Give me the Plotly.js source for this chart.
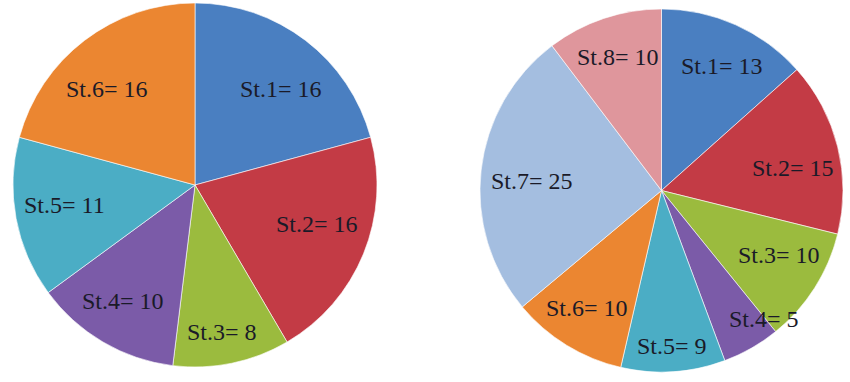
<!DOCTYPE html>
<html>
<head>
<meta charset="utf-8">
<script src="https://cdn.plot.ly/plotly-3.0.1.min.js"></script>
<style>html,body{margin:0;padding:0;background:#fff;}#chart{width:850px;height:382px;}</style>
</head>
<body>
<div id="chart"></div>
<script>
const leftLabels = ["St.1", "St.2", "St.3", "St.4", "St.5", "St.6"];
const leftValues = [16, 16, 8, 10, 11, 16];
const leftColors = ["#4A7FC1", "#C33B45", "#9BBB3E", "#7B5BA8", "#4BADC5", "#EB8631"];

const rightLabels = ["St.1", "St.2", "St.3", "St.4", "St.5", "St.6", "St.7", "St.8"];
const rightValues = [13, 15, 10, 5, 9, 10, 25, 10];
const rightColors = ["#4A7FC1", "#C33B45", "#9BBB3E", "#7B5BA8", "#4BADC5", "#EB8631", "#A4BEE0", "#DF969C"];

const W = 850, H = 382;
const FONT = { family: "Liberation Serif, Times New Roman, serif", size: 24, color: "#1a1a28" };

// label placement tuning (layout only): radius fraction and angle offset (deg)
const leftLabelPos = { r: [0.707, 0.702, 0.821, 0.75, 0.723, 0.717], off: [4.3, -4.4, 1.3, 1.4, 1.8, -5.2] };
const rightLabelPos = { r: [0.762, 0.735, 0.738, 0.906, 0.859, 0.766, 0.715, 0.775], off: [1.7, 4.2, -3.7, -8.9, -0.2, 0.9, -2.3, 0.4] };

function pie(labels, values, colors, domain) {
  return {
    type: "pie",
    labels: labels,
    values: values,
    textinfo: "none",
    hoverinfo: "none",
    sort: false,
    direction: "clockwise",
    rotation: 0,
    marker: { colors: colors, line: { color: "rgba(255,255,255,0.6)", width: 1 } },
    domain: domain,
    showlegend: false
  };
}

function labelAnnotations(labels, values, domain, pos) {
  const total = values.reduce((a, b) => a + b, 0);
  const x0 = domain.x[0] * W, x1 = domain.x[1] * W;
  const y0 = (1 - domain.y[1]) * H, y1 = (1 - domain.y[0]) * H;
  const cx = (x0 + x1) / 2, cy = (y0 + y1) / 2;
  const R = Math.min(x1 - x0, y1 - y0) / 2;
  let cum = 0;
  return labels.map((lab, i) => {
    const mid = (cum + values[i] / 2) / total * 360 + pos.off[i];
    cum += values[i];
    const a = mid * Math.PI / 180;
    const px = cx + Math.sin(a) * R * pos.r[i];
    const py = cy - Math.cos(a) * R * pos.r[i];
    return {
      xref: "paper", yref: "paper",
      x: px / W, y: 1 - py / H,
      xanchor: "center", yanchor: "middle",
      showarrow: false,
      text: lab + "= " + values[i],
      font: FONT
    };
  });
}

const leftDomain = { x: [12 / W, 378 / W], y: [15 / H, 379 / H] };
const rightDomain = { x: [480 / W, 843 / W], y: [10 / H, 373 / H] };

const data = [
  pie(leftLabels, leftValues, leftColors, leftDomain),
  pie(rightLabels, rightValues, rightColors, rightDomain)
];

const layout = {
  width: W,
  height: H,
  margin: { l: 0, r: 0, t: 0, b: 0 },
  paper_bgcolor: "#ffffff",
  showlegend: false,
  annotations: labelAnnotations(leftLabels, leftValues, leftDomain, leftLabelPos)
    .concat(labelAnnotations(rightLabels, rightValues, rightDomain, rightLabelPos))
};

Plotly.newPlot("chart", data, layout, { displayModeBar: false, staticPlot: true });
</script>
</body>
</html>
